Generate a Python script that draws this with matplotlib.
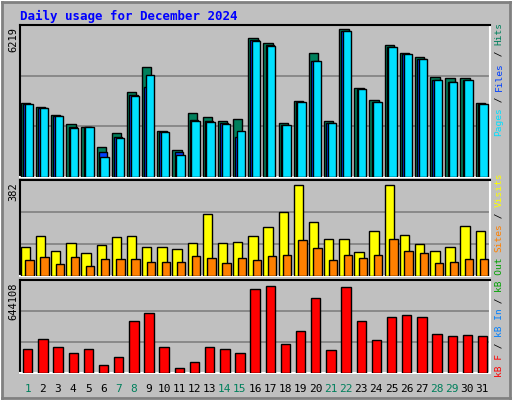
import numpy as np
import matplotlib.pyplot as plt

days = np.arange(1, 32)
weekend = [1, 7, 8, 14, 15, 21, 22, 28, 29]

# panel 1 (pixel heights, 42 units per px)
hits = np.array([74, 70, 62, 53, 50, 30, 44, 85, 110, 46, 27, 64, 60, 56, 58,
                 139, 134, 54, 76, 124, 56, 148, 89, 77, 132, 124, 120, 100, 99, 99, 74]) * 42.0
files = np.array([73, 69, 61, 50, 50, 25, 40, 82, 90, 45, 25, 57, 56, 54, 40,
                  137, 132, 52, 75, 116, 54, 146, 88, 75, 130, 123, 118, 97, 95, 97, 73]) * 42.0
pages = np.array([73, 69, 61, 49, 50, 20, 39, 81, 102, 45, 22, 56, 55, 53, 46,
                  136, 131, 52, 75, 116, 54, 146, 88, 75, 130, 123, 118, 97, 95, 97, 73]) * 42.0
visits = (275 - np.array([246, 235, 250, 242, 252, 244, 236, 235, 246, 246, 248, 242, 213, 242, 241,
                          235, 226, 211, 184, 221, 238, 238, 251, 230, 184, 234, 243, 250, 246, 225, 230])) * 382 / 91
sites = (275 - np.array([259, 256, 263, 256, 265, 258, 258, 258, 261, 261, 261, 255, 257, 262, 257,
                         259, 255, 254, 239, 247, 259, 254, 257, 254, 238, 250, 252, 262, 261, 258, 258])) * 382 / 91
kbytes = (372 - np.array([348, 338, 346, 352, 348, 364, 356, 320, 312, 346, 367, 361, 346, 348, 352,
                          288, 285, 343, 330, 297, 349, 286, 320, 339, 316, 314, 316, 333, 335, 334, 335])) * 644108 / 87

W, H = 512, 400
fig = plt.figure(figsize=(W / 100, H / 100), dpi=100)
fig.patch.set_facecolor('white')
bg = fig.add_axes([0.004, 0.004, 0.992, 0.992])
bg.set_facecolor('#C0C0C0')
bg.set_xticks([]); bg.set_yticks([])
for s in bg.spines.values():
    s.set_color('#808080'); s.set_linewidth(2)
mono = 'DejaVu Sans Mono'

fig.text(20 / W, 1 - 16 / H, 'Daily usage for December 2024', color='#0000FF',
         fontfamily=mono, fontweight='bold', fontsize=9, va='center')


def panel(y0, y1):
    ax = fig.add_axes([20 / W, 1 - y1 / H, 470 / W, (y1 - y0) / H])
    ax.set_facecolor('#C0C0C0')
    ax.set_xlim(0.5, 31.5)
    ax.set_xticks([]); ax.set_yticks([])
    ax.spines['left'].set_color('black')
    ax.spines['bottom'].set_color('white')
    ax.spines['top'].set_color('black')
    ax.spines['right'].set_color('white')
    for s in ax.spines.values():
        s.set_linewidth(1.5)
    return ax


def bars(ax, x, h, w, c):
    ax.bar(x, h, width=w, align='edge', color=c, edgecolor='black', linewidth=1, zorder=3)


ax1 = panel(25, 177)
top1 = 152 * 42
ax1.set_ylim(0, top1)
for g in (top1 / 3, 2 * top1 / 3):
    ax1.axhline(g, color='#808080', lw=1.2, zorder=1)
bars(ax1, days - 0.45, hits, 0.62, '#00805C')
bars(ax1, days - 0.3, files, 0.55, '#0040FF')
bars(ax1, days - 0.2, pages, 0.55, '#00E0FF')
fig.text(13 / W, 1 - 27 / H, '6219', rotation=90, fontfamily=mono, fontsize=7.5, ha='center', va='top')

ax2 = panel(180, 276)
top2 = 96 * 382 / 91
ax2.set_ylim(0, top2)
for g in (top2 / 3, 2 * top2 / 3):
    ax2.axhline(g, color='#808080', lw=1.2, zorder=1)
bars(ax2, days - 0.45, visits, 0.62, '#FFFF00')
bars(ax2, days - 0.15, sites, 0.55, '#FF8000')
fig.text(13 / W, 1 - 182 / H, '382', rotation=90, fontfamily=mono, fontsize=7.5, ha='center', va='top')

ax3 = panel(280, 373)
top3 = 93 * 644108 / 87
ax3.set_ylim(0, top3)
for g in (top3 / 3, 2 * top3 / 3):
    ax3.axhline(g, color='#808080', lw=1.2, zorder=1)
bars(ax3, days - 0.3, kbytes, 0.62, '#FF0000')
fig.text(13 / W, 1 - 282 / H, '644108', rotation=90, fontfamily=mono, fontsize=7.5, ha='center', va='top')

for d in days:
    x = (20 + (d - 0.5) * 470 / 31) / W
    fig.text(x, 1 - 389 / H, str(d), fontfamily=mono, fontsize=8, ha='center', va='center',
             color='#00805C' if d in weekend else 'black')

FS = 6.8
ADV = 0.6 * FS * 100 / 72


def side(parts, y_bottom):
    y = y_bottom
    for txt, col in parts:
        fig.text(499 / W, 1 - y / H, txt, rotation=90, fontfamily=mono, fontsize=FS,
                 color=col, ha='center', va='bottom')
        y -= len(txt) * ADV


side([('Pages', '#00E0FF'), (' / ', 'black'), ('Files', '#0040FF'), (' / ', 'black'), ('Hits', '#00805C')], 136)
side([('kB F', '#FF0000'), (' / ', 'black'), ('kB In', '#0080FF'), (' / ', 'black'),
      ('kB Out', '#00A000'), (' ', 'black'), ('Sites', '#FF8000'), (' / ', 'black'),
      ('Visits', '#FFFF00')], 377)

fig.savefig('out.png', dpi=100, facecolor='white')
